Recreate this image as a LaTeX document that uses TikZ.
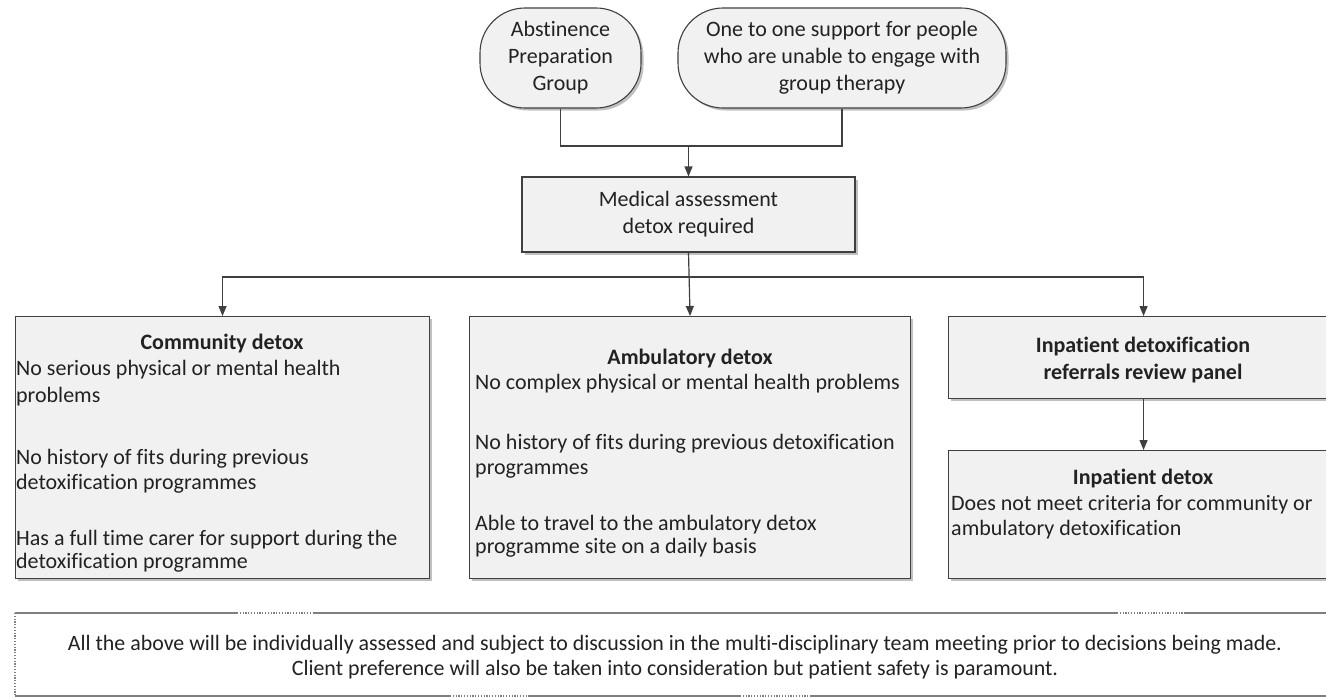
\documentclass[tikz,border=0pt]{standalone}
\usepackage{fontspec}
\setmainfont{Carlito}[Ligatures={NoCommon}]
\usetikzlibrary{arrows.meta,shadows}
\definecolor{ln}{HTML}{404040}
\definecolor{bx}{HTML}{F1F1F1}
\definecolor{tx}{HTML}{222222}
\definecolor{nb}{HTML}{7F7F7F}
\begin{document}
\begin{tikzpicture}[x=1bp,y=-1bp,
  shad/.style={drop shadow={shadow xshift=2.5bp,shadow yshift=-2.5bp,fill=black!35,opacity=0.7}},
  boxs/.style={draw=ln, line width=1.1bp, fill=bx, rectangle, inner sep=0, shad, text=tx},
  rbox/.style={boxs, rounded corners=45bp},
  ftx/.style={font=\fontsize{22bp}{27bp}\selectfont},
  txt/.style={ftx, inner sep=0, text=tx, anchor=base},
  ltxt/.style={txt, anchor=base west},
  btxt/.style={txt, font=\fontsize{22bp}{27bp}\selectfont\bfseries},
  conn/.style={draw=ln, line width=1.2bp},
  arr/.style={conn, -{Triangle[length=10bp,width=8bp]}},
  nbline/.style={draw=nb, line width=1.3bp},
  nbdot/.style={draw=nb, line width=1.1bp, dash pattern=on 1.2bp off 1.6bp}
]
\fill[white] (0,0) rectangle (1326,697);
\clip (0,0) rectangle (1326,697);

% top rounded nodes
\node[rbox, ftx, align=center, minimum width=161bp, minimum height=100bp] (abst) at (560.5,58) {Abstinence\\Preparation\\Group};
\node[rbox, ftx, align=center, minimum width=328bp, minimum height=100bp] (one) at (842,58) {One to one support for people\\who are unable to engage with\\group therapy};

% medical assessment
\node[boxs, ftx, align=center, minimum width=333bp, minimum height=75bp] (med) at (688.5,214.5) {Medical assessment\\detox required};

% three option boxes
\node[boxs, anchor=north west, minimum width=414bp, minimum height=262bp] (comm) at (15,316) {};
\node[boxs, anchor=north west, minimum width=441bp, minimum height=262bp] (amb) at (469,316) {};
\node[boxs, anchor=north west, minimum width=390bp, minimum height=82bp] (panel) at (948,316) {};
\node[boxs, anchor=north west, minimum width=390bp, minimum height=128bp] (inpt) at (948,450) {};

% community text
\node[btxt] (c0) at (222,349) {Community detox};
\node[ltxt] (c1) at (16,375) {No serious physical or mental health};
\node[ltxt] (c2) at (16,402) {problems};
\node[ltxt] (c3) at (16,464) {No history of fits during previous};
\node[ltxt] (c4) at (16,489) {detoxification programmes};
\node[ltxt] (c5) at (16,545) {Has a full time carer for support during the};
\node[ltxt] (c6) at (16,568) {detoxification programme};

% ambulatory text
\node[btxt] (a0) at (690,364) {Ambulatory detox};
\node[ltxt] (a1) at (475,389) {No complex physical or mental health problems};
\node[ltxt] (a2) at (475,449) {No history of fits during previous detoxification};
\node[ltxt] (a3) at (475,474) {programmes};
\node[ltxt] (a4) at (475,530) {Able to travel to the ambulatory detox};
\node[ltxt] (a5) at (475,553) {programme site on a daily basis};

% panel text
\node[btxt] (p1) at (1143,352) {Inpatient detoxification};
\node[btxt] (p2) at (1143,379) {referrals review panel};

% inpatient text
\node[btxt] (i0) at (1143,484) {Inpatient detox};
\node[ltxt] (i1) at (951,510) {Does not meet criteria for community or};
\node[ltxt] (i2) at (951,535) {ambulatory detoxification};

% connectors
\coordinate (j1) at (688.5,146);
\coordinate (j2) at (688.5,277);
\draw[conn] (abst.south) |- (j1);
\draw[conn] (one.south) |- (j1);
\draw[arr] (j1) -- (med.north);
\draw[arr] (med.south) -- (amb.north);
\draw[arr] (j2) -| (comm.north);
\draw[arr] (j2) -| (panel.north);
\draw[arr] (panel.south) -- (inpt.north);

% note box
\node[inner sep=0, anchor=north west, minimum width=1323bp, minimum height=83bp] (note) at (15,613) {};
\draw[nbdot] (note.north west) -- (note.south west);
\draw[nbline] (15,613) -- (237,613);
\draw[nbdot] (237,613) -- (313,613);
\draw[nbline] (313,613) -- (1117,613);
\draw[nbdot] (1117,613) -- (1185,613);
\draw[nbline] (1185,613) -- (1338,613);
\draw[nbline] (15,696) -- (450,696);
\draw[nbdot] (450,696) -- (530,696);
\draw[nbline] (530,696) -- (740,696);
\draw[nbdot] (740,696) -- (810,696);
\draw[nbline] (810,696) -- (1338,696);
\node[txt, font=\fontsize{21.9bp}{25bp}\selectfont] (n1) at (675,650) {All the above will be individually assessed and subject to discussion in the multi-disciplinary team meeting prior to decisions being made.};
\node[txt, font=\fontsize{21.9bp}{25bp}\selectfont] (n2) at (675,675) {Client preference will also be taken into consideration but patient safety is paramount.};
\end{tikzpicture}
\end{document}
